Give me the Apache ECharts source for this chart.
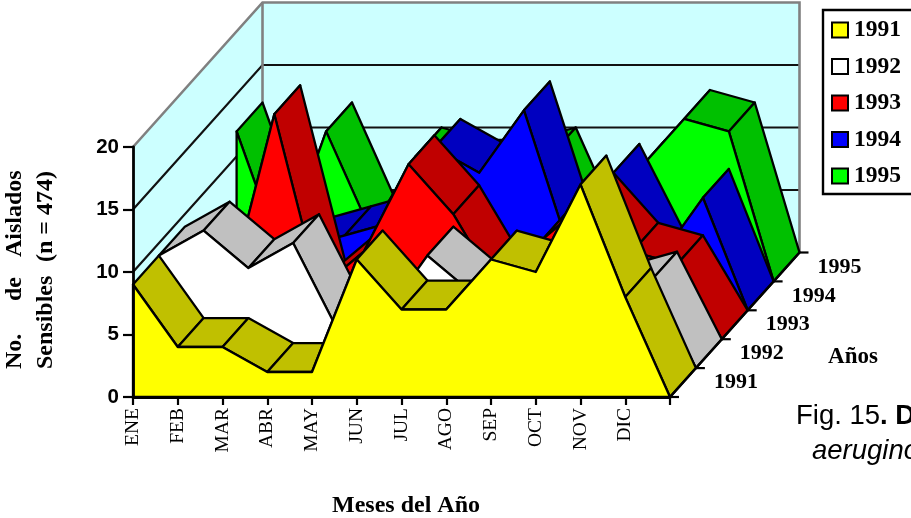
<!DOCTYPE html>
<html>
<head>
<meta charset="UTF-8">
<title>Aislados sensibles por mes</title>
<script src="https://cdn.jsdelivr.net/npm/echarts@6/dist/echarts.min.js"></script>
<style>
  html, body { margin: 0; padding: 0; background: #fff; overflow: hidden; }
  #chart { width: 911px; height: 518px; }
</style>
</head>
<body>
<div id="chart"></div>
<script>
// datos (el ultimo punto sin etiqueta cierra cada area en 0)
var meses = ['ENE','FEB','MAR','ABR','MAY','JUN','JUL','AGO','SEP','OCT','NOV','DIC',''];
var anios = ['1991','1992','1993','1994','1995'];
var yTicks = [0, 5, 10, 15, 20];
var v1991 = [9, 4, 4, 2, 2, 11, 7, 7, 11, 10, 17, 8, 0];
var v1992 = [9, 11, 8, 10, 3, 4, 9, 6, 5, 5, 6, 7, 0];
var v1993 = [3, 4, 18, 4, 7, 14, 10, 4, 8, 11, 7, 6, 0];
var v1994 = [3, 4, 5, 6, 7, 13, 11, 16, 5, 11, 4, 9, 0];
var v1995 = [12, 2, 12, 4, 10, 9, 9, 10, 2, 9, 13, 12, 0];
var valores = [v1991, v1992, v1993, v1994, v1995];

var colorFrente = ['#ffff00', '#ffffff', '#ff0000', '#0000ff', '#00ff00'];
var colorArriba = ['#c0c000', '#c0c0c0', '#c00000', '#0000c0', '#00c000'];

// desplazamiento en pixeles de cada "fila" de profundidad
var dx = 25.9;
var dy = -28.9;
var serif = '"Liberation Serif", "Times New Roman", serif';
var sans = '"Liberation Sans", Arial, sans-serif';

function punto(api, i, v, d) {
  var p = api.coord([i, v]);
  return [p[0] + d * dx, p[1] + d * dy];
}

// paredes del fondo y lineas de la cuadricula
function dibujaParedes(params, api) {
  var n = meses.length - 1, prof = anios.length;
  var hijos = [];
  hijos.push({ type: 'polygon', shape: { points: [punto(api,0,0,0), punto(api,n,0,0), punto(api,n,0,prof), punto(api,0,0,prof)] },
    style: { fill: '#ccffff', stroke: null } });
  hijos.push({ type: 'polygon', shape: { points: [punto(api,0,0,0), punto(api,0,20,0), punto(api,0,20,prof), punto(api,0,0,prof)] },
    style: { fill: '#ccffff', stroke: null } });
  hijos.push({ type: 'polygon', shape: { points: [punto(api,0,0,prof), punto(api,0,20,prof), punto(api,n,20,prof), punto(api,n,0,prof)] },
    style: { fill: '#ccffff', stroke: null } });
  yTicks.forEach(function (t) {
    if (t === 0 || t === 20) return;
    hijos.push({ type: 'polyline', shape: { points: [punto(api,0,t,0), punto(api,0,t,prof), punto(api,n,t,prof)] },
      style: { fill: null, stroke: '#111', lineWidth: 2.2 } });
  });
  hijos.push({ type: 'polyline', shape: { points: [punto(api,0,20,0), punto(api,0,20,prof), punto(api,n,20,prof), punto(api,n,0,prof)] },
    style: { fill: null, stroke: '#808080', lineWidth: 2.6 } });
  hijos.push({ type: 'line', shape: { x1: punto(api,0,20,prof)[0], y1: punto(api,0,20,prof)[1], x2: punto(api,0,0,prof)[0], y2: punto(api,0,0,prof)[1] },
    style: { stroke: '#808080', lineWidth: 2.6 } });
  return { type: 'group', children: hijos };
}

// un area: primero las caras de arriba de izquierda a derecha, luego el frente
function dibujaArea(d) {
  return function (params, api) {
    var vals = valores[d];
    var hijos = [];
    var estilo = { stroke: '#000', lineWidth: 2.3, lineJoin: 'round' };
    for (var i = 0; i < vals.length - 1; i++) {
      hijos.push({ type: 'polygon', shape: { points: [
        punto(api, i, vals[i], d), punto(api, i + 1, vals[i + 1], d),
        punto(api, i + 1, vals[i + 1], d + 1), punto(api, i, vals[i], d + 1)
      ] }, style: Object.assign({ fill: colorArriba[d] }, estilo) });
    }
    var frente = [punto(api, 0, 0, d)];
    vals.forEach(function (v, k) { frente.push(punto(api, k, v, d)); });
    hijos.push({ type: 'polygon', shape: { points: frente }, style: Object.assign({ fill: colorFrente[d] }, estilo) });
    return { type: 'group', children: hijos };
  };
}

// eje de profundidad con los anios
function dibujaProfundidad(params, api) {
  var n = meses.length - 1, prof = anios.length;
  var ini = punto(api, n, 0, 0), fin = punto(api, n, 0, prof);
  var hijos = [{ type: 'line', shape: { x1: ini[0], y1: ini[1], x2: fin[0], y2: fin[1] }, style: { stroke: '#000', lineWidth: 2.6 } }];
  for (var d = 0; d <= prof; d++) {
    var p = punto(api, n, 0, d);
    hijos.push({ type: 'line', shape: { x1: p[0], y1: p[1], x2: p[0] + 9, y2: p[1] }, style: { stroke: '#000', lineWidth: 2.2 } });
    if (d < prof) {
      var q = punto(api, n, 0, d + 0.5);
      hijos.push({ type: 'text', style: { x: q[0] + 53, y: q[1], text: anios[d], align: 'center', verticalAlign: 'middle',
        fill: '#000', fontFamily: serif, fontWeight: 'bold', fontSize: 22 } });
    }
  }
  return { type: 'group', children: hijos };
}

var series = [{ name: 'paredes', type: 'custom', data: [0], renderItem: dibujaParedes, z: 1, silent: true }];
for (var d = anios.length - 1; d >= 0; d--) {
  series.push({ name: anios[d], type: 'custom', data: [0], renderItem: dibujaArea(d), z: 2,
    itemStyle: { color: colorFrente[d], borderColor: '#000', borderWidth: 2.4 } });
}
series.push({ name: 'profundidad', type: 'custom', data: [0], renderItem: dibujaProfundidad, z: 3, silent: true });

function textoRotado(texto, x, y) {
  return { type: 'text', x: x, y: y, rotation: Math.PI / 2,
    style: { text: texto, align: 'left', verticalAlign: 'middle', fill: '#000', fontFamily: serif, fontWeight: 'bold', fontSize: 24 } };
}

var option = {
  animation: false,
  backgroundColor: '#fff',
  grid: { left: 133, top: 147, width: 537, height: 250, containLabel: false },
  xAxis: {
    type: 'category', data: meses, boundaryGap: false, z: 10,
    axisLine: { lineStyle: { color: '#000', width: 2.8 } },
    axisTick: { show: true, length: 8, interval: 0, lineStyle: { color: '#000', width: 2.2 } },
    axisLabel: { interval: 0, rotate: 90, margin: 11, color: '#000', fontFamily: serif, fontSize: 19.5 },
    splitLine: { show: false }
  },
  yAxis: {
    type: 'value', min: 0, max: 20, interval: 5, z: 10,
    axisLine: { show: true, lineStyle: { color: '#000', width: 2.8 } },
    axisTick: { show: true, length: 10, lineStyle: { color: '#000', width: 2.2 } },
    axisLabel: { margin: 14, color: '#000', fontFamily: sans, fontWeight: 'bold', fontSize: 20.5 },
    splitLine: { show: false }
  },
  legend: {
    data: anios, orient: 'vertical', left: 823, top: 10, icon: 'rect',
    itemWidth: 16, itemHeight: 15, itemGap: 12.5, padding: [8, 30, 6, 8],
    backgroundColor: '#fff', borderColor: '#000', borderWidth: 2.4, borderRadius: 0,
    selectedMode: false,
    textStyle: { color: '#000', fontFamily: serif, fontWeight: 'bold', fontSize: 23.5, padding: [0, 0, 0, 1] }
  },
  graphic: [
    textoRotado('No.', 15, 369),
    textoRotado('de', 15, 301),
    textoRotado('Aislados', 15, 257),
    textoRotado('Sensibles', 46, 369),
    textoRotado('(n = 474)', 46, 262),
    { type: 'text', x: 406, y: 506, style: { text: 'Meses del Año', align: 'center', verticalAlign: 'middle', fill: '#000', fontFamily: serif, fontWeight: 'bold', fontSize: 24 } },
    { type: 'text', x: 853, y: 357, style: { text: 'Años', align: 'center', verticalAlign: 'middle', fill: '#000', fontFamily: serif, fontWeight: 'bold', fontSize: 23 } },
    { type: 'text', x: 796, y: 416, style: { text: '{a|Fig. 15}{b|. D}', verticalAlign: 'middle', rich: {
      a: { fontFamily: sans, fontSize: 27.5, fill: '#000' },
      b: { fontFamily: sans, fontSize: 27.5, fontWeight: 'bold', fill: '#000' } } } },
    { type: 'text', x: 812, y: 451, style: { text: 'aerugino', verticalAlign: 'middle', fontFamily: sans, fontStyle: 'italic', fontSize: 27.5, fill: '#000' } }
  ],
  series: series
};

var myChart = echarts.init(document.getElementById('chart'));
myChart.setOption(option);
</script>
</body>
</html>
